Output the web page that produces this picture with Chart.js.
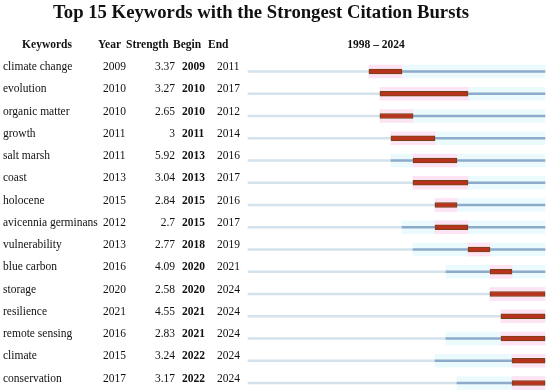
<!DOCTYPE html>
<html>
<head>
<meta charset="utf-8">
<script src="https://cdn.jsdelivr.net/npm/chart.js@4.4.1/dist/chart.umd.min.js"></script>
<style>
  html, body { margin: 0; padding: 0; background: #fff; }
  #wrap { width: 550px; height: 391px; }
</style>
</head>
<body>
<div id="wrap"><canvas id="myChart"></canvas></div>
<script>
// DATA
let keywords = ["climate change", "evolution", "organic matter", "growth", "salt marsh",
  "coast", "holocene", "avicennia germinans", "vulnerability", "blue carbon",
  "storage", "resilience", "remote sensing", "climate", "conservation"];
let years = [2009, 2010, 2010, 2011, 2011, 2013, 2015, 2012, 2013, 2016, 2020, 2021, 2016, 2015, 2017];
let strength = [3.37, 3.27, 2.65, 3, 5.92, 3.04, 2.84, 2.7, 2.77, 4.09, 2.58, 4.55, 2.83, 3.24, 3.17];
let begins = [2009, 2010, 2010, 2011, 2013, 2013, 2015, 2015, 2018, 2020, 2020, 2021, 2021, 2022, 2022];
let ends = [2011, 2017, 2012, 2014, 2016, 2017, 2016, 2017, 2019, 2021, 2024, 2024, 2024, 2024, 2024];
let firstYear = 1998;
let lastYear = 2024;

// each year covers [y, y+1] on the x scale
let beforeData = years.map(y => [firstYear, y]);
let afterData = years.map(y => [y, lastYear + 1]);
let burstData = begins.map((b, i) => [b, ends[i] + 1]);

const SERIF = "'Liberation Serif', 'Times New Roman', serif";

// TABLE TEXT
const tableText = {
  id: "tableText",
  afterDraw(chart) {
    let ctx = chart.ctx;
    let yScale = chart.scales.y;
    ctx.save();
    ctx.fillStyle = "#111";
    ctx.textBaseline = "alphabetic";

    // title
    ctx.font = "bold 18.7px " + SERIF;
    ctx.textAlign = "center";
    ctx.fillText("Top 15 Keywords with the Strongest Citation Bursts", 261, 18);

    // header
    ctx.font = "bold 11.5px " + SERIF;
    ctx.textAlign = "center";
    ctx.fillText("Keywords", 47, 48);
    ctx.textAlign = "left";
    ctx.fillText("Year", 98, 48);
    ctx.fillText("Strength", 126, 48);
    ctx.fillText("Begin", 173, 48);
    ctx.fillText("End", 208, 48);
    ctx.textAlign = "center";
    ctx.fillText(firstYear + " \u2013 " + lastYear, 376, 48);

    keywords.forEach((k, i) => {
      let y = yScale.getPixelForValue(i) - 1.5;
      ctx.font = "11.5px " + SERIF;
      ctx.textAlign = "left";
      ctx.fillText(k, 3, y);
      ctx.fillText(String(years[i]), 103, y);
      ctx.fillText(String(ends[i]), 217, y);
      ctx.textAlign = "right";
      ctx.fillText(String(strength[i]), 175, y);
      ctx.font = "bold 11.5px " + SERIF;
      ctx.textAlign = "left";
      ctx.fillText(String(begins[i]), 182, y);
    });
    ctx.restore();
  }
};

const whiteBg = {
  id: "whiteBg",
  beforeDraw(chart) {
    let ctx = chart.ctx;
    ctx.save();
    ctx.fillStyle = "#fff";
    ctx.fillRect(0, 0, chart.width, chart.height);
    ctx.restore();
  }
};

let ctx = document.getElementById("myChart").getContext("2d");
let chart = new Chart(ctx, {
  type: "bar",
  data: {
    labels: keywords,
    datasets: [
      {
        label: "Burst",
        data: burstData,
        backgroundColor: "#b9321d",
        borderColor: "#6f4514",
        borderWidth: 1,
        borderSkipped: false,
        barThickness: 5,
        grouped: false,
        clip: false,
        order: 0
      },
      {
        label: "After",
        data: afterData,
        backgroundColor: "#8eaaca",
        barThickness: 2,
        grouped: false,
        clip: false,
        order: 1
      },
      {
        label: "Before",
        data: beforeData,
        backgroundColor: "#d4e2eb",
        barThickness: 2,
        grouped: false,
        clip: false,
        order: 2
      },
      {
        label: "BurstBand",
        data: burstData,
        backgroundColor: "#fde3f4",
        barThickness: 13,
        grouped: false,
        clip: false,
        order: 3
      },
      {
        label: "AfterBand",
        data: afterData,
        backgroundColor: "#ebfbfd",
        barThickness: 13,
        grouped: false,
        clip: false,
        order: 4
      }
    ]
  },
  options: {
    indexAxis: "y",
    responsive: true,
    maintainAspectRatio: false,
    devicePixelRatio: 1,
    animation: false,
    layout: { padding: { left: 248, right: 5, top: 71.5, bottom: 8 } },
    scales: {
      x: { type: "linear", min: firstYear, max: lastYear + 1, display: false },
      y: { type: "category", offset: false, display: false }
    },
    plugins: {
      legend: { display: false },
      tooltip: { enabled: false }
    }
  },
  plugins: [whiteBg, tableText]
});
</script>
</body>
</html>
